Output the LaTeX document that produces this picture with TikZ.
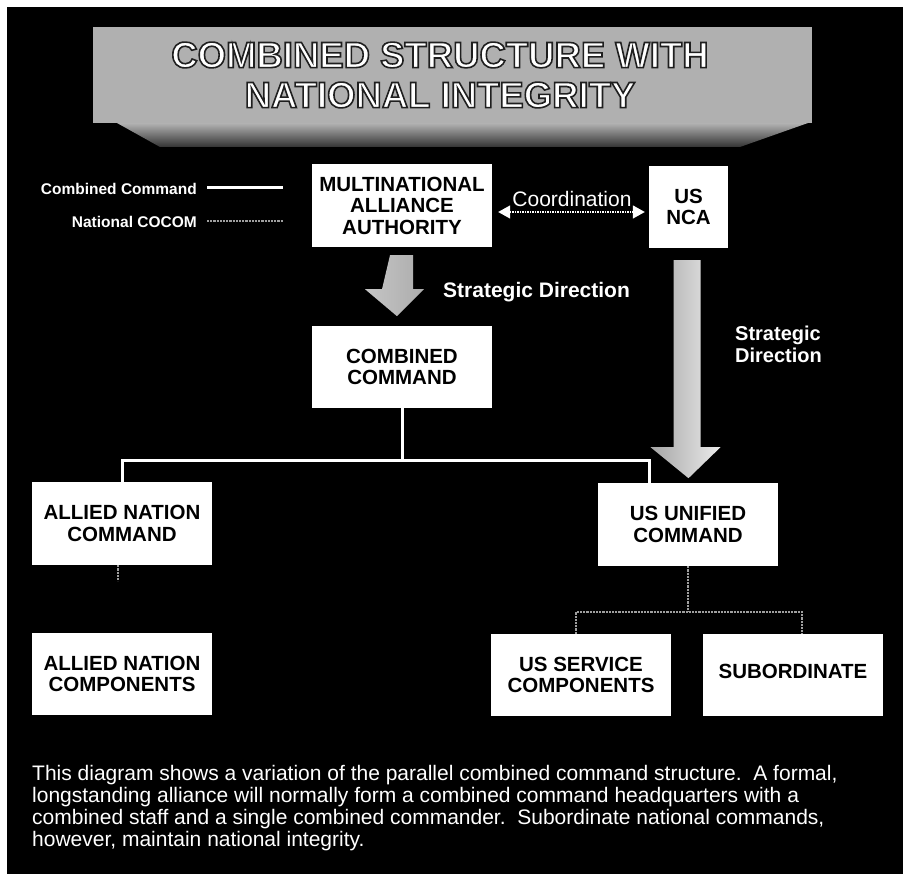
\documentclass[tikz,border=0pt]{standalone}
\usepackage{fontspec}
\setmainfont{Liberation Sans}
\usetikzlibrary{arrows.meta,calc}
\newcommand{\outlinetext}[1]{\special{pdf:literal direct 2 Tr 1.6 w 0.12 G}#1\special{pdf:literal direct 0 Tr}}
\begin{document}
\begin{tikzpicture}[x=1pt,y=-1pt,
  box/.style={fill=white, minimum width=180pt, minimum height=83pt, inner sep=0pt,
    align=center, text=black, font=\fontsize{20.5}{21.5}\selectfont\bfseries},
  legendtxt/.style={text=white, inner sep=0pt, font=\fontsize{15.5}{16}\selectfont\bfseries},
  lbl/.style={text=white, inner sep=0pt, font=\fontsize{21}{22}\selectfont\bfseries},
  cmdline/.style={white, line width=3pt},
  natline/.style={gray!75, line width=2.2pt, densely dotted},
  coordarrow/.style={white, line width=1.5pt, densely dotted,
    {Triangle[width=13pt,length=12pt]}-{Triangle[width=13pt,length=12pt]}}
]
\useasboundingbox (0,0) rectangle (903,874);
\fill[white] (0,0) rectangle (903,874);
\fill[black] (7,7) rectangle (903,874);

% title banner
\shade[top color=gray!60, bottom color=gray!40!black] (117,123) -- (808,123) -- (740,147) -- (160,147) -- cycle;
\fill[gray!62] (93,27) rectangle (812,123);
\node[text=white, align=center, inner sep=0pt, font=\fontsize{36.5}{40}\selectfont\bfseries] (title) at (440,75)
  {\outlinetext{COMBINED STRUCTURE WITH}\\\outlinetext{NATIONAL INTEGRITY}};

% legend
\node[legendtxt, anchor=east] (leg1) at (197,189) {Combined Command};
\node[legendtxt, anchor=east] (leg2) at (197,222) {National COCOM};
\draw[cmdline] ([xshift=10pt,yshift=1pt]leg1.east) -- ++(76,0) coordinate (leg1end);
\draw[natline, line width=1.6pt] ([xshift=10pt,yshift=1pt]leg2.east) -- ++(76,0) coordinate (leg2end);

% boxes
\node[box] (maa) at (402,205.5) {MULTINATIONAL\\ALLIANCE\\AUTHORITY};
\node[box, minimum width=79pt, minimum height=82pt] (nca) at (688.5,207) {US\\NCA};
\node[box, minimum height=82pt] (cc) at (402,367) {COMBINED\\COMMAND};
\node[box] (anc) at (122,523.5) {ALLIED NATION\\COMMAND};
\node[box, minimum height=82pt] (ancomp) at (122,674) {ALLIED NATION\\COMPONENTS};
\node[box] (uuc) at (688,524.5) {US UNIFIED\\COMMAND};
\node[box, minimum height=82pt] (usc) at (581,675) {US SERVICE\\COMPONENTS};
\node[box, minimum height=82pt] (sub) at (793,675) {\raisebox{7pt}{SUBORDINATE}};

% coordination
\draw[coordarrow] ([xshift=6pt,yshift=-6.5pt]maa.east) -- ([xshift=-4pt,yshift=-5pt]nca.west);
\node[text=white, inner sep=0pt, font=\fontsize{21}{22}\selectfont] (coordlbl) at (572,199) {Coordination};

% strategic direction arrows
\coordinate (s1) at ([yshift=-8pt]maa.south);
\shade[left color=gray!45, middle color=white, right color=gray!65]
  (s1) ++(-12,0) -- ++(23,0) -- ++(0,34) -- ++(11,0) -- ++(-27,27) -- ++(-32,-27) -- ++(17,0) -- cycle;
\node[lbl, anchor=west] (sd1) at (443,292) {Strategic Direction};

\coordinate (s2) at ([yshift=-12pt]nca.south);
\shade[left color=gray!70, right color=white!85!gray]
  (s2) ++(-15,0) -- ++(27,0) -- ++(0,187) -- ++(20,0) -- ++(-32,31) -- ++(-38,-31) -- ++(23,0) -- cycle;
\node[lbl, anchor=west, align=left, font=\fontsize{20}{22}\selectfont\bfseries] (sd2) at (735,344) {Strategic\\Direction};

% combined command lines
\draw[cmdline] (cc.south) -- ++(0,52) coordinate (j1);
\draw[cmdline] (anc.north) |- (j1) -| ([xshift=52pt]uuc.north west);

% national COCOM lines
\draw[natline] ([xshift=-4pt]anc.south) -- ++(0,16) coordinate (stub);
\draw[natline] (uuc.south) -- ++(0,46) coordinate (j2);
\draw[natline] ([xshift=-5pt]usc.north) |- (j2) -| ([xshift=9pt]sub.north);

% paragraph
\node[anchor=north west, inner sep=0pt, align=left, text=white, font=\fontsize{21}{22}\selectfont] (para) at (32,765)
{This diagram shows a variation of the parallel combined command structure.\ \ A formal,\\
longstanding alliance will normally form a combined command headquarters with a\\
combined staff and a single combined commander.\ \ Subordinate national commands,\\
however, maintain national integrity.};
\end{tikzpicture}
\end{document}
